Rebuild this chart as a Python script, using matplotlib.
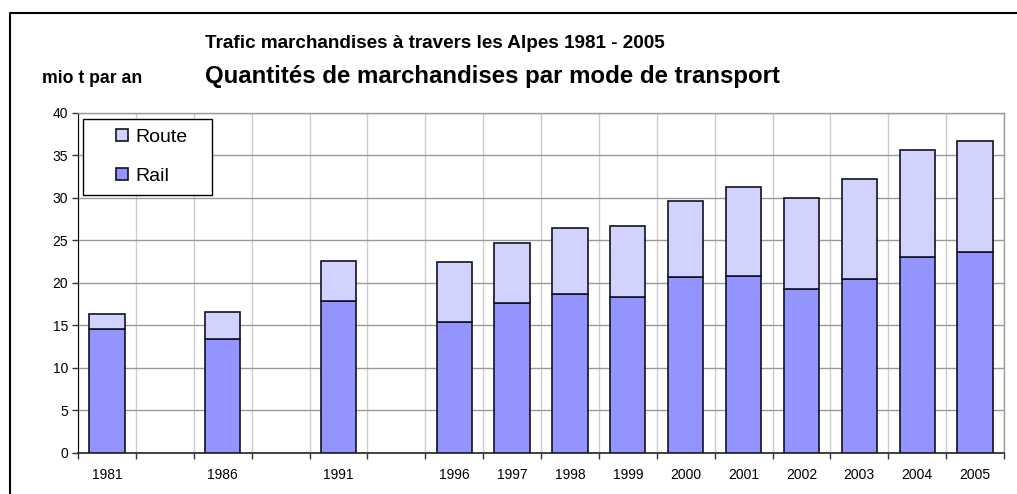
import numpy as np
import matplotlib.pyplot as plt
from matplotlib.lines import Line2D
from matplotlib.patches import Rectangle
from matplotlib.ticker import FixedLocator

plt.rcParams['font.family'] = ['Liberation Sans', 'DejaVu Sans']

# categories of the original sheet, blank ones are empty slots
categories = ['1981', '', '1986', '', '1991', '', '1996', '1997', '1998',
              '1999', '2000', '2001', '2002', '2003', '2004', '2005']
rail = [14.6, None, 13.4, None, 17.9, None, 15.4, 17.6, 18.7,
        18.3, 20.7, 20.85, 19.3, 20.5, 23.0, 23.6]
total = [16.3, None, 16.5, None, 22.6, None, 22.4, 24.7, 26.4,
         26.7, 29.6, 31.3, 30.0, 32.2, 35.6, 36.7]
route = [None if t is None else round(t - r, 2) for t, r in zip(total, rail)]

RAIL_COLOR = '#9494ff'
ROUTE_COLOR = '#d2d2ff'

W, H = 1017, 494
fig = plt.figure(figsize=(W / 100, H / 100), dpi=100)
ax_l, ax_t, ax_r, ax_b = 78, 113, 1004, 452.5
ax = fig.add_axes([ax_l / W, 1 - ax_b / H, (ax_r - ax_l) / W, (ax_b - ax_t) / H])

idx = [i for i, r in enumerate(rail) if r is not None]
x = np.array(idx, dtype=float)
rail_v = [rail[i] for i in idx]
route_v = [route[i] for i in idx]

ax.bar(x, rail_v, width=0.61, color=RAIL_COLOR, edgecolor='#111122', linewidth=1.2,
       label='Rail', zorder=3)
ax.bar(x, route_v, bottom=rail_v, width=0.61, color=ROUTE_COLOR, edgecolor='#111122',
       linewidth=1.2, label='Route', zorder=3)

n = len(categories)
ax.set_xlim(-0.5, n - 0.5)
ax.set_ylim(0, 40)
ax.set_yticks(np.arange(0, 41, 5))

ax.xaxis.set_major_locator(FixedLocator(range(n)))
ax.set_xticklabels(categories)
ax.xaxis.set_minor_locator(FixedLocator(np.arange(-0.5, n, 1.0)))
ax.tick_params(axis='x', which='major', length=0, pad=11.5, labelsize=10, colors='#000000')
ax.tick_params(axis='x', which='minor', length=4, width=1, color='#333333')
ax.tick_params(axis='y', length=4, width=1, color='#333333', labelsize=10, pad=3)

ax.grid(axis='y', which='major', color='#9a9a9a', linewidth=1.0, zorder=0)
ax.grid(axis='x', which='minor', color='#cccccc', linewidth=1.0, zorder=0)
ax.set_axisbelow(True)

ax.spines['left'].set_color('#000000')
ax.spines['bottom'].set_color('#333333')
ax.spines['bottom'].set_linewidth(1.3)
for s in ('top', 'right'):
    ax.spines[s].set_color('#9a9a9a')
    ax.spines[s].set_linewidth(1.0)

# legend: frame drawn separately so the padding matches the original
aw, ah = ax_r - ax_l, ax_b - ax_t
frame = Rectangle(((83.3 - ax_l) / aw, 1 - (195 - ax_t) / ah), 129 / aw, 75.7 / ah,
                  transform=ax.transAxes, facecolor='white', edgecolor='#000000',
                  linewidth=1.0, zorder=4)
ax.add_patch(frame)
handles, labels = ax.get_legend_handles_labels()
leg = ax.legend(handles[::-1], labels[::-1], loc='center left',
                bbox_to_anchor=((116 - ax_l) / aw, 1 - (156.7 - ax_t) / ah), fontsize=14,
                frameon=False, handlelength=0.62, handleheight=0.62, handletextpad=0.39,
                labelspacing=1.13, borderpad=0, borderaxespad=0)
leg.set_zorder(5)

fig.text(205 / W, 1 - 44 / H, 'Trafic marchandises à travers les Alpes 1981 - 2005',
         fontsize=13.6, fontweight='bold', va='center', ha='left')
fig.text(205 / W, 1 - 76 / H, 'Quantités de marchandises par mode de transport',
         fontsize=17.3, fontweight='bold', va='center', ha='left')
fig.text(42 / W, 1 - 78 / H, 'mio t par an', fontsize=12.7, fontweight='bold',
         va='center', ha='left')

# outer chart border (top and left edges visible)
fig.add_artist(Line2D([10 / W, 10 / W, 1.0], [0.0, 1 - 13 / H, 1 - 13 / H],
                      transform=fig.transFigure, color='#000000', linewidth=1.5))

fig.savefig('out.png', dpi=100, facecolor='white')
